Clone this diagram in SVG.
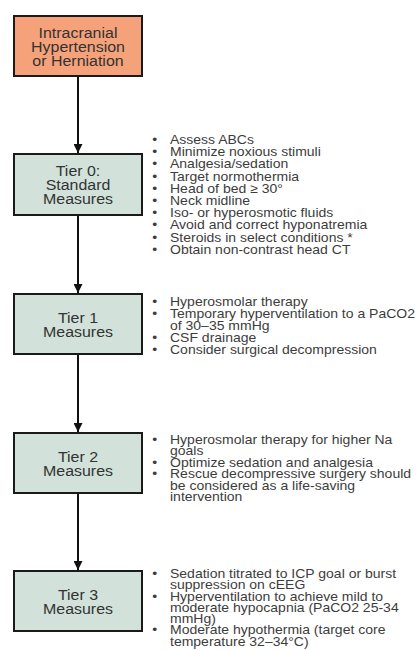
<svg xmlns="http://www.w3.org/2000/svg" width="417" height="650" viewBox="0 0 417 650">
<style>
.box{stroke:#1a1a1a;stroke-width:2}
.start{fill:#F5A27A}
.tier{fill:#D2E2DA}
.bt{font-family:"Liberation Sans",Arial,sans-serif;font-size:14.5px;fill:#333;text-anchor:middle}
.li{font-family:"Liberation Sans",Arial,sans-serif;font-size:13px;fill:#3c3c3c}
.conn{stroke:#111;stroke-width:2;fill:none}
</style>
<defs>
<marker id="arr" viewBox="0 0 10 10" refX="10" refY="5" markerWidth="4.5" markerHeight="4.5" orient="auto" markerUnits="strokeWidth">
<path d="M0,0 L10,5 L0,10 z" fill="#111"/>
</marker>
</defs>
<rect width="417" height="650" fill="#fff"/>
<g id="connectors">
<line class="conn" x1="78" y1="76" x2="78" y2="153" marker-end="url(#arr)"/>
<line class="conn" x1="78" y1="215" x2="78" y2="293" marker-end="url(#arr)"/>
<line class="conn" x1="78" y1="354" x2="78" y2="432" marker-end="url(#arr)"/>
<line class="conn" x1="78" y1="493" x2="78" y2="570" marker-end="url(#arr)"/>
</g>
<g id="start">
<rect class="box start" x="14" y="16" width="128" height="60"/>
<g class="bt" transform="translate(78,0) scale(1.1,1)">
<text x="0" y="38">Intracranial</text>
<text x="0" y="52">Hypertension</text>
<text x="0" y="66">or Herniation</text>
</g>
</g>
<g id="tier0">
<rect class="box tier" x="14" y="154" width="128" height="61"/>
<g class="bt" transform="translate(78,0) scale(1.1,1)">
<text x="0" y="176">Tier 0:</text>
<text x="0" y="190">Standard</text>
<text x="0" y="204">Measures</text>
</g>
</g>
<g id="tier0-list" class="li" transform="translate(170,0) scale(1.077,1)">
<text x="-16.5" y="144">•</text><text x="0" y="144">Assess ABCs</text>
<text x="-16.5" y="156.2">•</text><text x="0" y="156.2">Minimize noxious stimuli</text>
<text x="-16.5" y="168.4">•</text><text x="0" y="168.4">Analgesia/sedation</text>
<text x="-16.5" y="180.6">•</text><text x="0" y="180.6">Target normothermia</text>
<text x="-16.5" y="192.8">•</text><text x="0" y="192.8">Head of bed ≥ 30°</text>
<text x="-16.5" y="205">•</text><text x="0" y="205">Neck midline</text>
<text x="-16.5" y="217.2">•</text><text x="0" y="217.2">Iso- or hyperosmotic fluids</text>
<text x="-16.5" y="229.4">•</text><text x="0" y="229.4">Avoid and correct hyponatremia</text>
<text x="-16.5" y="241.6">•</text><text x="0" y="241.6">Steroids in select conditions *</text>
<text x="-16.5" y="253.8">•</text><text x="0" y="253.8">Obtain non-contrast head CT</text>
</g>
<g id="tier1">
<rect class="box tier" x="14" y="294" width="128" height="60"/>
<g class="bt" transform="translate(78,0) scale(1.1,1)">
<text x="0" y="323">Tier 1</text>
<text x="0" y="337">Measures</text>
</g>
</g>
<g id="tier1-list" class="li" transform="translate(170,0) scale(1.077,1)">
<text x="-16.5" y="306">•</text><text x="0" y="306">Hyperosmolar therapy</text>
<text x="-16.5" y="318">•</text><text x="0" y="318">Temporary hyperventilation to a PaCO2</text>
<text x="0" y="330">of 30–35 mmHg</text>
<text x="-16.5" y="342">•</text><text x="0" y="342">CSF drainage</text>
<text x="-16.5" y="354">•</text><text x="0" y="354">Consider surgical decompression</text>
</g>
<g id="tier2">
<rect class="box tier" x="14" y="433" width="128" height="60"/>
<g class="bt" transform="translate(78,0) scale(1.1,1)">
<text x="0" y="462">Tier 2</text>
<text x="0" y="476">Measures</text>
</g>
</g>
<g id="tier2-list" class="li" transform="translate(170,0) scale(1.077,1)">
<text x="-16.5" y="444">•</text><text x="0" y="444">Hyperosmolar therapy for higher Na</text>
<text x="0" y="455.4">goals</text>
<text x="-16.5" y="466.8">•</text><text x="0" y="466.8">Optimize sedation and analgesia</text>
<text x="-16.5" y="478.2">•</text><text x="0" y="478.2">Rescue decompressive surgery should</text>
<text x="0" y="489.6">be considered as a life-saving</text>
<text x="0" y="501">intervention</text>
</g>
<g id="tier3">
<rect class="box tier" x="14" y="571" width="128" height="60"/>
<g class="bt" transform="translate(78,0) scale(1.1,1)">
<text x="0" y="600">Tier 3</text>
<text x="0" y="614">Measures</text>
</g>
</g>
<g id="tier3-list" class="li" transform="translate(170,0) scale(1.077,1)">
<text x="-16.5" y="578">•</text><text x="0" y="578">Sedation titrated to ICP goal or burst</text>
<text x="0" y="589.3">suppression on cEEG</text>
<text x="-16.5" y="600.6">•</text><text x="0" y="600.6">Hyperventilation to achieve mild to</text>
<text x="0" y="611.9">moderate hypocapnia (PaCO2 25-34</text>
<text x="0" y="623.2">mmHg)</text>
<text x="-16.5" y="634.5">•</text><text x="0" y="634.5">Moderate hypothermia (target core</text>
<text x="0" y="645.8">temperature 32–34°C)</text>
</g>
</svg>
